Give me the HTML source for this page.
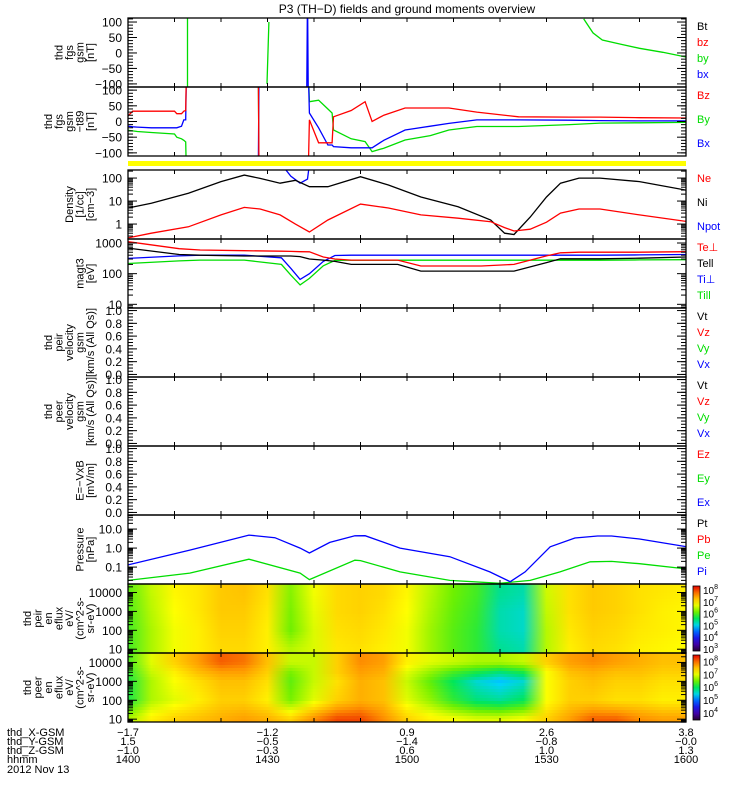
<!DOCTYPE html>
<html><head><meta charset="utf-8">
<style>
html,body{margin:0;padding:0;background:#fff;}
svg{display:block;font-family:"Liberation Sans",sans-serif;}
</style></head>
<body>
<svg id="c" width="750" height="800" viewBox="0 0 750 800" xmlns="http://www.w3.org/2000/svg">
<rect x="0" y="0" width="750" height="800" fill="#fff"/>
<text x="407" y="13" font-size="12" text-anchor="middle">P3 (TH−D) fields and ground moments overview</text>
<rect x="128" y="161" width="558" height="5" fill="#ffff00"/>
<defs id="defs"></defs>
<g id="plots"></g>
<g id="frames"></g>
</svg>
<script>
// ---------- data ----------
const fgsByT = [12.8,12.8,null,29.9,30.3,null,98,100,102,106,110,115,120];
const fgsByV = [-200,200,null,-100,100,null,110,65,42,28,15,2,-13];
const fgsBxT = [38.4,38.6,38.8];
const fgsBxV = [-200,200,-200];
const t89T = [0,1,2,5,10,10.5,11.5,12,12.4,12.6,null,28,28.2,null,38.7,39,41,43,43.9,44.2,48,51,52.5,55,59.6,65,69,75,84,95,101.5,110,120];
const t89Bz = [18,33,33,33,33,25,25,33,35,200,null,200,-200,null,-200,5,-68,-68,-68,15,35,63,0,20,43,43,43,30,15,14,14,12,11];
const t89By = [-28,-30,-32,-35,-40,-50,-55,-60,-65,-200,null,200,-200,null,200,63,68,40,27,-27,-55,-64,-96,-85,-59,-45,-27,-16,-16,-10,-5,-4,-3];
const t89Bx = [-15,-17,-18,-20,-20,-20,-15,5,5,200,null,-200,200,null,200,27,-20,-75,-75,-80,-84,-84,-84,-60,-27,-15,-6,5,5,4,3,2,2];
const denT = [0,5,13,20,25,28.4,32.7,36,39,43,50,56,63,71,78,81,83,86.5,90,93,97,101.5,110,120];
const denNi = [5,8,22,70,135,97,60,80,42,42,115,50,15,5.6,1.5,0.4,0.35,2,15,60,100,100,70,30];
const denNe = [0.25,0.4,0.76,2.5,5.3,4.5,2.5,1,0.45,1.5,7.4,5,2.5,1.8,1.26,0.7,0.5,0.6,1.2,3,4.5,4.5,2.5,1.3];
const npotT = [33,35,37,38.6,39];
const npotV = [400,120,60,90,400];
const tmpT = [0,11,15.5,25,33,35,37,39,42,44.5,48,52,58,63,70,76,83,90,93,97,101.5,110,120];
const tmpTePerp = [1100,650,590,560,540,530,520,515,350,300,277,277,277,177,177,177,200,380,480,500,500,500,520];
const tmpTePar = [680,420,400,375,375,375,360,300,277,250,200,200,200,121,121,121,121,230,305,305,305,320,350];
const tmpTiPerp = [315,380,400,400,330,150,65,100,250,390,400,400,400,400,400,400,400,400,400,400,400,410,420];
const tmpTiPar = [215,260,277,277,200,90,43,70,180,270,275,275,275,275,275,275,275,275,275,275,275,280,285];
const prsPiT = [0,13.3,26,31.6,37,39,43.4,48.8,51,58.5,69.2,77.8,82.2,85.4,90.8,96.1,101,104,110,120];
const prsPiV = [0.13,0.78,4.8,3.5,1.0,0.55,2,4.4,4.5,1.0,0.35,0.056,0.017,0.056,1.17,3.4,4.3,4.3,3,1.2];
const prsPeT = [0,13.3,26,37,39,48.8,50,58.5,69.2,80,86.5,92.9,99.4,104,110,120];
const prsPeV = [0.02,0.048,0.26,0.048,0.022,0.23,0.22,0.056,0.02,0.014,0.02,0.056,0.19,0.2,0.15,0.08];
const specT = [0,5,10,15,20,25,30,35,40,45,50,55,60,65,70,75,80,85,90,95,100,105,110,115,120];
const ionE = [10000,1000,100,10];
const ionRows = [
 [5.9,6.35,6.65,6.75,6.95,7.0,6.8,6.1,6.55,6.85,6.9,6.85,6.65,6.3,6.0,5.8,5.3,5.2,6.4,6.8,6.95,6.9,6.8,6.75,6.7],
 [5.85,6.3,6.6,6.75,6.95,6.95,6.75,6.05,6.5,6.85,6.9,6.8,6.6,6.25,5.95,5.75,5.2,5.1,6.35,6.8,6.95,6.9,6.8,6.7,6.65],
 [5.8,6.25,6.55,6.7,6.9,6.9,6.7,6.0,6.45,6.8,6.85,6.75,6.55,6.2,5.9,5.7,5.2,5.1,6.3,6.75,6.9,6.85,6.75,6.7,6.65],
 [5.8,6.25,6.55,6.7,6.85,6.85,6.7,6.3,6.45,6.75,6.8,6.7,6.55,6.2,5.9,5.7,5.3,5.2,6.3,6.7,6.85,6.8,6.7,6.65,6.6]
];
const eleE = [10000,3000,1000,100,10];
const eleRows = [
 [6.2,6.8,7.2,7.5,7.8,7.7,7.3,6.7,6.7,7.2,7.6,7.5,7.0,6.8,6.7,6.6,6.6,6.7,7.2,7.5,7.6,7.5,7.4,7.3,7.3],
 [6.1,6.7,7.0,7.3,7.5,7.5,7.2,6.4,6.7,7.2,7.5,7.4,6.8,6.5,6.2,6.0,5.8,6.0,6.9,7.3,7.4,7.3,7.3,7.2,7.2],
 [6.0,6.6,6.9,7.1,7.3,7.3,7.1,6.3,6.7,7.1,7.4,7.3,6.7,6.3,5.9,5.5,5.3,5.5,6.9,7.2,7.3,7.2,7.2,7.1,7.1],
 [6.0,6.6,6.8,7.0,7.2,7.2,7.0,6.4,6.8,7.2,7.4,7.3,6.8,6.5,6.1,5.8,5.7,5.9,6.9,7.2,7.2,7.1,7.1,7.0,7.0],
 [6.6,7.0,7.2,7.3,7.4,7.5,7.4,7.2,7.6,7.9,7.9,7.6,7.2,7.0,6.9,6.8,6.8,6.9,7.2,7.5,7.8,7.8,7.6,7.5,7.5]
];
const annLabels = ["thd_X-GSM","thd_Y-GSM","thd_Z-GSM","hhmm"];
const annTimes = [0,30,60,90,120];
const annX = ["-1.7","-1.2","0.9","2.6","3.8"];
const annY = ["1.5","-0.5","-1.4","-0.8","-0.0"];
const annZ = ["-1.0","-0.3","0.6","1.0","1.3"];
const annH = ["1400","1430","1500","1530","1600"];

// ---------- helpers ----------
const NS="http://www.w3.org/2000/svg";
const X0=128, X1=686;
function xT(t){return X0+t*(X1-X0)/120;}
function mk(tag,attrs,parent){const e=document.createElementNS(NS,tag);for(const k in attrs)e.setAttribute(k,attrs[k]);parent.appendChild(e);return e;}
const plots=document.getElementById('plots'), frames=document.getElementById('frames'), defs=document.getElementById('defs');

const panels=[
 {id:'fgs',top:18,bot:87,type:'lin',min:-110,max:113,ticks:[100,50,0,-50,-100],labs:["100","50","0","−50","−100"],minor:10,title:["thd","fgs","gsm","[nT]"]},
 {id:'t89',top:87,bot:156,type:'lin',min:-110,max:110,ticks:[100,50,0,-50,-100],labs:["100","50","0","−50","−100"],minor:10,title:["thd","fgs","gsm","−t89","[nT]"]},
 {id:'den',top:170,bot:239,type:'log',min:-0.65,max:2.35,ticks:[2,1,0],labs:["100","10","1"],title:["Density","[1/cc]","[cm−3]"]},
 {id:'tmp',top:239,bot:308,type:'log',min:0.88,max:3.13,ticks:[3,2,1],labs:["1000","100","10"],title:["magt3","[eV]"]},
 {id:'vi',top:308,bot:377,type:'lin',min:-0.04,max:1.04,ticks:[1,0.8,0.6,0.4,0.2,0],labs:["1.0","0.8","0.6","0.4","0.2","0.0"],minor:0.05,title:["thd","peir","velocity","gsm","[km/s (All Qs)]"]},
 {id:'ve',top:377,bot:446,type:'lin',min:-0.04,max:1.04,ticks:[1,0.8,0.6,0.4,0.2,0],labs:["1.0","0.8","0.6","0.4","0.2","0.0"],minor:0.05,title:["thd","peer","velocity","gsm","[km/s (All Qs)]"]},
 {id:'ef',top:446,bot:515,type:'lin',min:-0.04,max:1.04,ticks:[1,0.8,0.6,0.4,0.2,0],labs:["1.0","0.8","0.6","0.4","0.2","0.0"],minor:0.05,title:["E=−VxB","[mV/m]"]},
 {id:'prs',top:515,bot:584,type:'log',min:-1.89,max:1.74,ticks:[1,0,-1],labs:["10.0","1.0","0.1"],title:["Pressure","[nPa]"]},
 {id:'si',top:584,bot:653,type:'log',min:0.8,max:4.45,ticks:[4,3,2,1],labs:["10000","1000","100","10"],title:["thd","peir","en","eflux","eV/","(cm^2-s-","sr-eV)"]},
 {id:'se',top:653,bot:722,type:'log',min:0.85,max:4.5,ticks:[4,3,2,1],labs:["10000","1000","100","10"],title:["thd","peer","en","eflux","eV/","(cm^2-s-","sr-eV)"]}
];
function yF(p){return v=>{let u=p.type==='log'?Math.log10(v):v;return p.bot-(u-p.min)/(p.max-p.min)*(p.bot-p.top);};}

const rightLabels={
 fgs:[["Bt","#000"],["bz","#f00"],["by","#0d0"],["bx","#00f"]],
 t89:[["Bz","#f00"],["By","#0d0"],["Bx","#00f"]],
 den:[["Ne","#f00"],["Ni","#000"],["Npot","#00f"]],
 tmp:[["Te⊥","#f00"],["Tell","#000"],["Ti⊥","#00f"],["Till","#0d0"]],
 vi:[["Vt","#000"],["Vz","#f00"],["Vy","#0d0"],["Vx","#00f"]],
 ve:[["Vt","#000"],["Vz","#f00"],["Vy","#0d0"],["Vx","#00f"]],
 ef:[["Ez","#f00"],["Ey","#0d0"],["Ex","#00f"]],
 prs:[["Pt","#000"],["Pb","#f00"],["Pe","#0d0"],["Pi","#00f"]]
};

const cstops=[[0,[40,0,50]],[0.12,[70,0,190]],[0.25,[0,40,255]],[0.38,[0,210,255]],[0.5,[0,230,90]],[0.6,[110,240,0]],[0.72,[255,255,0]],[0.86,[255,150,0]],[1,[230,0,0]]];
function cmap(f){f=Math.max(0,Math.min(1,f));for(let i=1;i<cstops.length;i++){if(f<=cstops[i][0]){const a=cstops[i-1],b=cstops[i],r=(f-a[0])/(b[0]-a[0]);const c=a[1].map((v,k)=>Math.round(v+(b[1][k]-v)*r));return `rgb(${c[0]},${c[1]},${c[2]})`;}}return 'rgb(230,0,0)';}

function drawLine(p,ts,vs,color,name){
  const y=yF(p);let d='',pen=false;
  for(let i=0;i<ts.length;i++){
    if(ts[i]===null||vs[i]===null){pen=false;continue;}
    let v=vs[i]; if(p.type==='log'&&v<=0){pen=false;continue;}
    d+=(pen?'L':'M')+xT(ts[i]).toFixed(1)+','+y(v).toFixed(1)+' ';pen=true;
  }
  const e=mk('path',{d:d,fill:'none',stroke:color,'stroke-width':1.3,'clip-path':'url(#clip-'+p.id+')'},plots);
  
  
}

function drawSpec(p,energies,rows,lo,hi,name){
  const le=energies.map(e=>Math.log10(e));
  const step=3;
  let k=0;
  for(let yy=p.top;yy<p.bot;yy+=step,k++){
    const lv=p.max-((yy+step/2)-p.top)/(p.bot-p.top)*(p.max-p.min);
    // interpolate between energy rows (le descending)
    let vals;
    if(lv>=le[0])vals=rows[0];
    else if(lv<=le[le.length-1])vals=rows[rows.length-1];
    else{let i=0;while(!(lv<=le[i]&&lv>=le[i+1]))i++;const r=(le[i]-lv)/(le[i]-le[i+1]);vals=rows[i].map((v,j)=>v+(rows[i+1][j]-v)*r);}
    const gid='g-'+p.id+'-'+k;
    const g=mk('linearGradient',{id:gid,x1:0,x2:1,y1:0,y2:0},defs);
    vals.forEach((v,i)=>{mk('stop',{offset:(specT[i]/120).toFixed(4),'stop-color':cmap((v-lo)/(hi-lo))},g);});
    const h=Math.min(step,p.bot-yy);
    const e=mk('rect',{x:X0,y:yy,width:X1-X0,height:h+0.5,fill:'url(#'+gid+')'},plots);
    
    
  }
}

panels.forEach(p=>{
  const cp=mk('clipPath',{id:'clip-'+p.id},defs);
  mk('rect',{x:X0,y:p.top,width:X1-X0,height:p.bot-p.top},cp);
  const y=yF(p);
  const g=mk('g',{},frames);
  
  
  mk('rect',{x:X0,y:p.top,width:X1-X0,height:p.bot-p.top,fill:'none',stroke:'#000','stroke-width':1.3},g);
  for(let t=10;t<120;t+=10){const x=xT(t);mk('line',{x1:x,x2:x,y1:p.top,y2:p.top+4,stroke:'#000'},g);mk('line',{x1:x,x2:x,y1:p.bot,y2:p.bot-4,stroke:'#000'},g);}
  const tk=(val,len)=>{const yy=y(p.type==='log'?Math.pow(10,val):val);if(yy<p.top-0.5||yy>p.bot+0.5)return;mk('line',{x1:X0,x2:X0+len,y1:yy,y2:yy,stroke:'#000'},g);mk('line',{x1:X1,x2:X1-len,y1:yy,y2:yy,stroke:'#000'},g);};
  if(p.type==='lin'){
    for(let v=Math.ceil(p.min/p.minor)*p.minor;v<=p.max+1e-9;v+=p.minor)tk(v,5);
    p.ticks.forEach(v=>tk(v,9));
  } else {
    for(let d=Math.floor(p.min);d<=Math.ceil(p.max);d++){for(let m=1;m<10;m++){tk(d+Math.log10(m),m===1?9:5);}}
  }
  p.ticks.forEach((v,i)=>{const yy=y(p.type==='log'?Math.pow(10,v):v);
    const t=mk('text',{x:122,y:(yy+4.5).toFixed(1),'font-size':12,'text-anchor':'end'},g);t.textContent=p.labs[i];
    
    });
  const yc=(p.top+p.bot)/2, n=p.title.length, xe=94;
  p.title.forEach((s,i)=>{const x=xe-(n-1-i)*10.5;
    const t=mk('text',{x:x,y:yc,'font-size':11,'text-anchor':'middle',transform:`rotate(-90 ${x} ${yc})`},g);t.textContent=s;
    
    });
  const rl=rightLabels[p.id];
  if(rl){const a=p.top+8,b=p.bot-13;rl.forEach((l,i)=>{const yy=a+i*(b-a)/(rl.length-1);
    const t=mk('text',{x:697,y:(yy+4).toFixed(1),'font-size':11,fill:l[1]},g);t.textContent=l[0];
    
    });}
});

const P={};panels.forEach(p=>P[p.id]=p);
drawSpec(P.si,ionE,ionRows,3,8,'ion-spectrogram');
drawSpec(P.se,eleE,eleRows,3.6,8.2,'electron-spectrogram');
drawLine(P.fgs,fgsByT,fgsByV,'#00dd00','fgs-by-line');
drawLine(P.fgs,fgsBxT,fgsBxV,'#0000ff','fgs-bx-line');
drawLine(P.t89,t89T,t89By,'#00dd00','t89-by-line');
drawLine(P.t89,t89T,t89Bx,'#0000ff','t89-bx-line');
drawLine(P.t89,t89T,t89Bz,'#ff0000','t89-bz-line');
drawLine(P.den,npotT,npotV,'#0000ff','npot-line');
drawLine(P.den,denT,denNi,'#000000','ni-line');
drawLine(P.den,denT,denNe,'#ff0000','ne-line');
drawLine(P.tmp,tmpT,tmpTiPar,'#00dd00','ti-par-line');
drawLine(P.tmp,tmpT,tmpTiPerp,'#0000ff','ti-perp-line');
drawLine(P.tmp,tmpT,tmpTePar,'#000000','te-par-line');
drawLine(P.tmp,tmpT,tmpTePerp,'#ff0000','te-perp-line');
drawLine(P.prs,prsPeT,prsPeV,'#00dd00','pe-line');
drawLine(P.prs,prsPiT,prsPiV,'#0000ff','pi-line');

function colorbar(p,lo,hi,labs,name){
  const gid='cb-'+p.id;
  const g=mk('linearGradient',{id:gid,x1:0,x2:0,y1:1,y2:0},defs);
  for(let i=0;i<=10;i++)mk('stop',{offset:i/10,'stop-color':cmap(i/10)},g);
  const e=mk('rect',{x:693,y:p.top+2,width:7,height:p.bot-p.top-4,fill:'url(#'+gid+')',stroke:'#000','stroke-width':0.8},frames);
  
  
  labs.forEach(L=>{const yy=p.bot-4-(L-lo)/(hi-lo)*(p.bot-p.top-10);
    const t=mk('text',{x:703,y:(yy+4).toFixed(1),'font-size':10},frames);
    t.innerHTML='10<tspan dy="-5" font-size="7">'+L+'</tspan>';
    
    });
}
colorbar(P.si,3,8,[8,7,6,5,4,3],'ion-colorbar');
colorbar(P.se,3.6,8.2,[8,7,6,5,4],'electron-colorbar');

const rowsY=[736,745,754,763];
const vals=[annX,annY,annZ,annH];
annLabels.forEach((s,i)=>{const t=mk('text',{x:7,y:rowsY[i],'font-size':11},frames);t.textContent=s;
  
  
  annTimes.forEach((tm,j)=>{const u=mk('text',{x:xT(tm),y:rowsY[i],'font-size':11,'text-anchor':'middle'},frames);u.textContent=vals[i][j].replace('-','−');
    
    });});
const dt=mk('text',{x:7,y:773,'font-size':11},frames);dt.textContent='2012 Nov 13';


</script>
</body></html>
